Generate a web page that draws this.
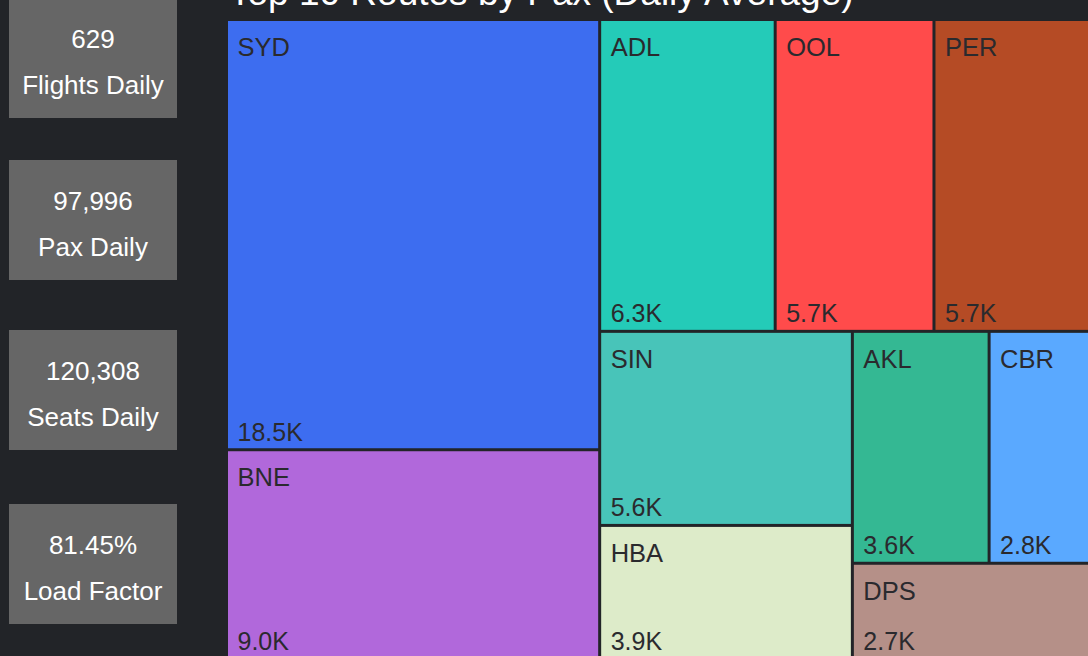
<!DOCTYPE html>
<html>
<head>
<meta charset="utf-8">
<script src="https://cdn.jsdelivr.net/npm/d3@7"></script>
<style>
  html, body { margin: 0; padding: 0; background: #222428; overflow: hidden; }
  svg { display: block; font-family: "Liberation Sans", Arial, sans-serif; }
</style>
</head>
<body>
<svg id="chart"></svg>
<script>
const WIDTH = 1088;
const HEIGHT = 656;

// KPI cards on the left
const kpiValues = ["629", "97,996", "120,308", "81.45%"];
const kpiLabels = ["Flights Daily", "Pax Daily", "Seats Daily", "Load Factor"];

// top 10 routes, daily average pax
const routes = ["SYD", "BNE", "ADL", "OOL", "PER", "SIN", "HBA", "AKL", "CBR", "DPS"];
const paxDaily = [18480, 9010, 6300, 5700, 5690, 5645, 3900, 3650, 2760, 2660];
const routeColors = [
  "#3d6df0", "#b168db", "#24cbb8", "#ff4b4b", "#b54b25",
  "#48c4b9", "#ddebc9", "#34b893", "#5aa9ff", "#b59088",
];

const TITLE = "Top 10 Routes by Pax (Daily Average)";

const BG = "#222428";
const CARD_X = 9;
const CARD_W = 168;
const CARD_H = 120;
const cardTops = [-2, 160, 330, 504];

const MAP_X = 228;
const MAP_Y = 21;
const MAP_W = 863;
const MAP_H = 637;

const svg = d3
  .select("#chart")
  .attr("width", WIDTH)
  .attr("height", HEIGHT)
  .attr("viewBox", `0 0 ${WIDTH} ${HEIGHT}`);

svg.append("rect").attr("width", WIDTH).attr("height", HEIGHT).attr("fill", BG);

// cards
const cards = svg
  .selectAll("g.card")
  .data(kpiValues.map((v, i) => ({ value: v, label: kpiLabels[i], top: cardTops[i] })))
  .join("g")
  .attr("class", "card")
  .attr("transform", (d) => `translate(${CARD_X}, ${d.top})`);

cards
  .append("rect")
  .attr("width", CARD_W)
  .attr("height", CARD_H)
  .attr("fill", "#666666");

cards
  .append("text")
  .attr("x", CARD_W / 2)
  .attr("y", 50)
  .attr("text-anchor", "middle")
  .attr("fill", "#ffffff")
  .attr("font-size", 26)
  .text((d) => d.value);

cards
  .append("text")
  .attr("x", CARD_W / 2)
  .attr("y", 96)
  .attr("text-anchor", "middle")
  .attr("fill", "#ffffff")
  .attr("font-size", 26)
  .text((d) => d.label);

// title, partly scrolled off the top (as in the original)
svg
  .append("text")
  .attr("x", MAP_X + 1)
  .attr("y", 5)
  .attr("fill", "#ffffff")
  .attr("font-size", 37)
  .text(TITLE);

// treemap
const root = d3
  .hierarchy({
    children: routes.map((r, i) => ({ name: r, value: paxDaily[i], color: routeColors[i] })),
  })
  .sum((d) => d.value || 0)
  .sort((a, b) => b.value - a.value);

d3.treemap().tile(d3.treemapSquarify).size([MAP_W, MAP_H]).paddingInner(3)(root);

const fmtK = (v) => (v / 1000).toFixed(1) + "K";

const tiles = svg
  .append("g")
  .attr("transform", `translate(${MAP_X}, ${MAP_Y})`)
  .selectAll("g")
  .data(root.leaves())
  .join("g")
  .attr("transform", (d) => `translate(${d.x0}, ${d.y0})`);

tiles
  .append("rect")
  .attr("width", (d) => d.x1 - d.x0)
  .attr("height", (d) => d.y1 - d.y0)
  .attr("fill", (d) => d.data.color);

tiles
  .append("text")
  .attr("x", 9.5)
  .attr("y", 35)
  .attr("fill", "#2a2a2e")
  .attr("font-size", 25.5)
  .text((d) => d.data.name);

tiles
  .append("text")
  .attr("x", 9.5)
  .attr("y", (d) => d.y1 - d.y0 - 7.5)
  .attr("fill", "#2a2a2e")
  .attr("font-size", 25)
  .text((d) => fmtK(d.value));
</script>
</body>
</html>
